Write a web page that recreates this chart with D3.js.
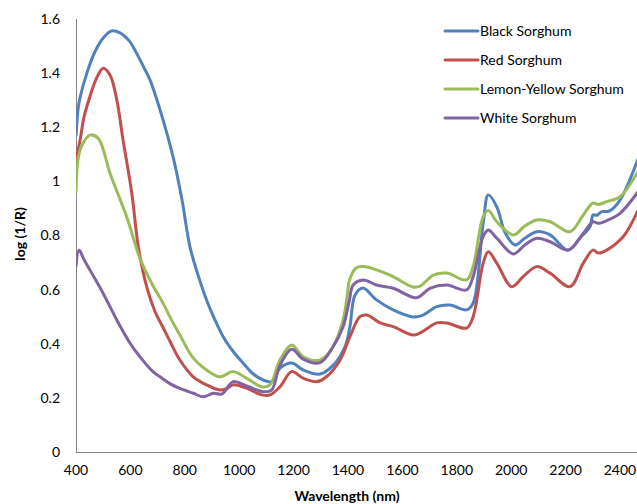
<!DOCTYPE html>
<html>
<head>
<meta charset="utf-8">
<script src="https://cdn.jsdelivr.net/npm/d3@7"></script>
<style>
  html, body { margin: 0; padding: 0; background: #fff; }
  svg { display: block; }
  text { font-family: Lato, "Open Sans", sans-serif; fill: #000; }
</style>
</head>
<body>
<svg id="chart" width="637" height="504"></svg>
<script>
// ---- Data ----
const seriesNames = ["Black Sorghum", "Red Sorghum", "Lemon-Yellow Sorghum", "White Sorghum"];
const seriesColors = ["#4F81BD", "#C0504D", "#9BBB59", "#8064A2"];
const xTicks = [400, 600, 800, 1000, 1200, 1400, 1600, 1800, 2000, 2200, 2400];
const yTicks = [0, 0.2, 0.4, 0.6, 0.8, 1, 1.2, 1.4, 1.6];

const blackSorghum = [[400,1.17],[408,1.27],[415,1.31],[440,1.40],[470,1.48],[500,1.53],[531,1.556],[560,1.55],[595,1.52],[623,1.473],[650,1.42],[672,1.375],[709,1.264],[757,1.09],[790,0.93],[819,0.758],[850,0.65],[880,0.562],[910,0.49],[941,0.426],[975,0.375],[1014,0.329],[1050,0.29],[1088,0.266],[1119,0.26],[1150,0.31],[1193,0.329],[1235,0.303],[1297,0.288],[1345,0.32],[1389,0.389],[1407,0.463],[1426,0.58],[1455,0.606],[1505,0.562],[1566,0.525],[1639,0.499],[1676,0.506],[1726,0.537],[1775,0.543],[1836,0.525],[1860,0.55],[1897,0.846],[1916,0.95],[1947,0.906],[1978,0.81],[2014,0.765],[2050,0.79],[2094,0.814],[2143,0.802],[2209,0.746],[2253,0.791],[2290,0.833],[2301,0.876],[2315,0.875],[2333,0.888],[2360,0.89],[2400,0.931],[2465,1.08]];

const redSorghum = [[400,1.08],[415,1.153],[430,1.24],[451,1.313],[475,1.38],[500,1.418],[525,1.393],[550,1.301],[573,1.153],[605,0.957],[629,0.759],[660,0.61],[690,0.52],[720,0.46],[750,0.40],[782,0.34],[831,0.278],[880,0.248],[929,0.229],[955,0.235],[978,0.248],[1027,0.236],[1083,0.211],[1113,0.211],[1150,0.241],[1193,0.297],[1235,0.273],[1285,0.26],[1321,0.278],[1371,0.34],[1407,0.426],[1444,0.5],[1469,0.506],[1518,0.477],[1566,0.463],[1639,0.432],[1665,0.44],[1701,0.463],[1726,0.477],[1763,0.477],[1836,0.458],[1860,0.5],[1897,0.698],[1916,0.74],[1947,0.698],[2002,0.611],[2044,0.648],[2094,0.685],[2143,0.661],[2216,0.611],[2265,0.698],[2301,0.746],[2320,0.735],[2351,0.746],[2412,0.796],[2465,0.89]];

const lemonYellowSorghum = [[400,0.962],[409,1.091],[425,1.14],[451,1.171],[482,1.159],[525,1.03],[586,0.87],[635,0.716],[680,0.62],[720,0.55],[750,0.49],[782,0.432],[831,0.347],[880,0.303],[929,0.278],[978,0.297],[1027,0.273],[1083,0.241],[1113,0.248],[1150,0.34],[1193,0.395],[1235,0.352],[1297,0.34],[1345,0.389],[1382,0.488],[1395,0.562],[1407,0.64],[1430,0.68],[1455,0.685],[1505,0.673],[1566,0.648],[1639,0.61],[1665,0.613],[1714,0.654],[1763,0.661],[1836,0.636],[1860,0.685],[1897,0.87],[1916,0.892],[1947,0.851],[2008,0.802],[2050,0.835],[2094,0.857],[2143,0.851],[2216,0.814],[2265,0.876],[2301,0.92],[2320,0.915],[2351,0.925],[2400,0.943],[2465,1.035]];

const whiteSorghum = [[400,0.685],[411,0.746],[430,0.71],[451,0.673],[500,0.586],[550,0.488],[599,0.402],[635,0.352],[680,0.30],[720,0.27],[750,0.25],[782,0.235],[831,0.217],[868,0.204],[905,0.217],[936,0.214],[978,0.26],[1027,0.244],[1089,0.223],[1119,0.229],[1150,0.321],[1193,0.38],[1235,0.343],[1297,0.33],[1345,0.389],[1382,0.463],[1405,0.56],[1419,0.617],[1456,0.636],[1505,0.617],[1566,0.605],[1652,0.57],[1701,0.605],[1763,0.617],[1836,0.599],[1860,0.648],[1897,0.796],[1916,0.82],[1947,0.79],[2008,0.732],[2050,0.765],[2094,0.79],[2143,0.777],[2211,0.746],[2265,0.808],[2301,0.851],[2320,0.845],[2351,0.855],[2400,0.882],[2465,0.96]];

const allSeries = [blackSorghum, redSorghum, lemonYellowSorghum, whiteSorghum];

// ---- Chart ----
const svg = d3.select("#chart");
const W = 637, H = 504;
const x = d3.scaleLinear().domain([400, 2400]).range([76, 620]);
const y = d3.scaleLinear().domain([0, 1.6]).range([452, 19]);

svg.append("defs").append("clipPath").attr("id", "plotClip")
  .append("rect").attr("x", 76).attr("y", 0).attr("width", W - 76).attr("height", 452);

// Axes lines
svg.append("line").attr("x1", 76).attr("x2", W).attr("y1", y(0) + 0.5).attr("y2", y(0) + 0.5)
  .attr("stroke", "#868686").attr("stroke-width", 1);
svg.append("line").attr("x1", 76.5).attr("x2", 76.5).attr("y1", y(1.6)).attr("y2", y(0) + 1)
  .attr("stroke", "#868686").attr("stroke-width", 1);

// Tick labels
svg.append("g").selectAll("text").data(yTicks).join("text")
  .attr("x", 60).attr("y", d => y(d)).attr("dy", "0.35em")
  .attr("text-anchor", "end").attr("font-size", 14)
  .text(d => d3.format("~g")(d));

svg.append("g").selectAll("text").data(xTicks).join("text")
  .attr("x", d => x(d)).attr("y", 475)
  .attr("text-anchor", "middle").attr("font-size", 14)
  .text(d => d);

// Axis titles
svg.append("text").attr("x", 347).attr("y", 501).attr("text-anchor", "middle")
  .attr("font-size", 14).attr("font-weight", "bold").text("Wavelength (nm)");
svg.append("text").attr("transform", "translate(25,234) rotate(-90)").attr("text-anchor", "middle")
  .attr("font-size", 14).attr("font-weight", "bold").text("log (1/R)");

// Lines
const line = d3.line().x(d => x(d[0])).y(d => y(d[1])).curve(d3.curveCatmullRom.alpha(0.5));
svg.append("g").attr("clip-path", "url(#plotClip)")
  .selectAll("path").data(allSeries).join("path")
  .attr("d", line)
  .attr("fill", "none")
  .attr("stroke", (d, i) => seriesColors[i])
  .attr("stroke-width", 3)
  .attr("stroke-linejoin", "round")
  .attr("stroke-linecap", "round");

// Legend
const legend = svg.append("g").selectAll("g").data(seriesNames).join("g")
  .attr("transform", (d, i) => `translate(0, ${31 + i * 29})`);
legend.append("line").attr("x1", 445).attr("x2", 478).attr("y1", 0).attr("y2", 0)
  .attr("stroke", (d, i) => seriesColors[i]).attr("stroke-width", 3).attr("stroke-linecap", "round");
legend.append("text").attr("x", 480).attr("y", 0).attr("dy", "0.35em")
  .attr("font-size", 14).text(d => d);
</script>
</body>
</html>
